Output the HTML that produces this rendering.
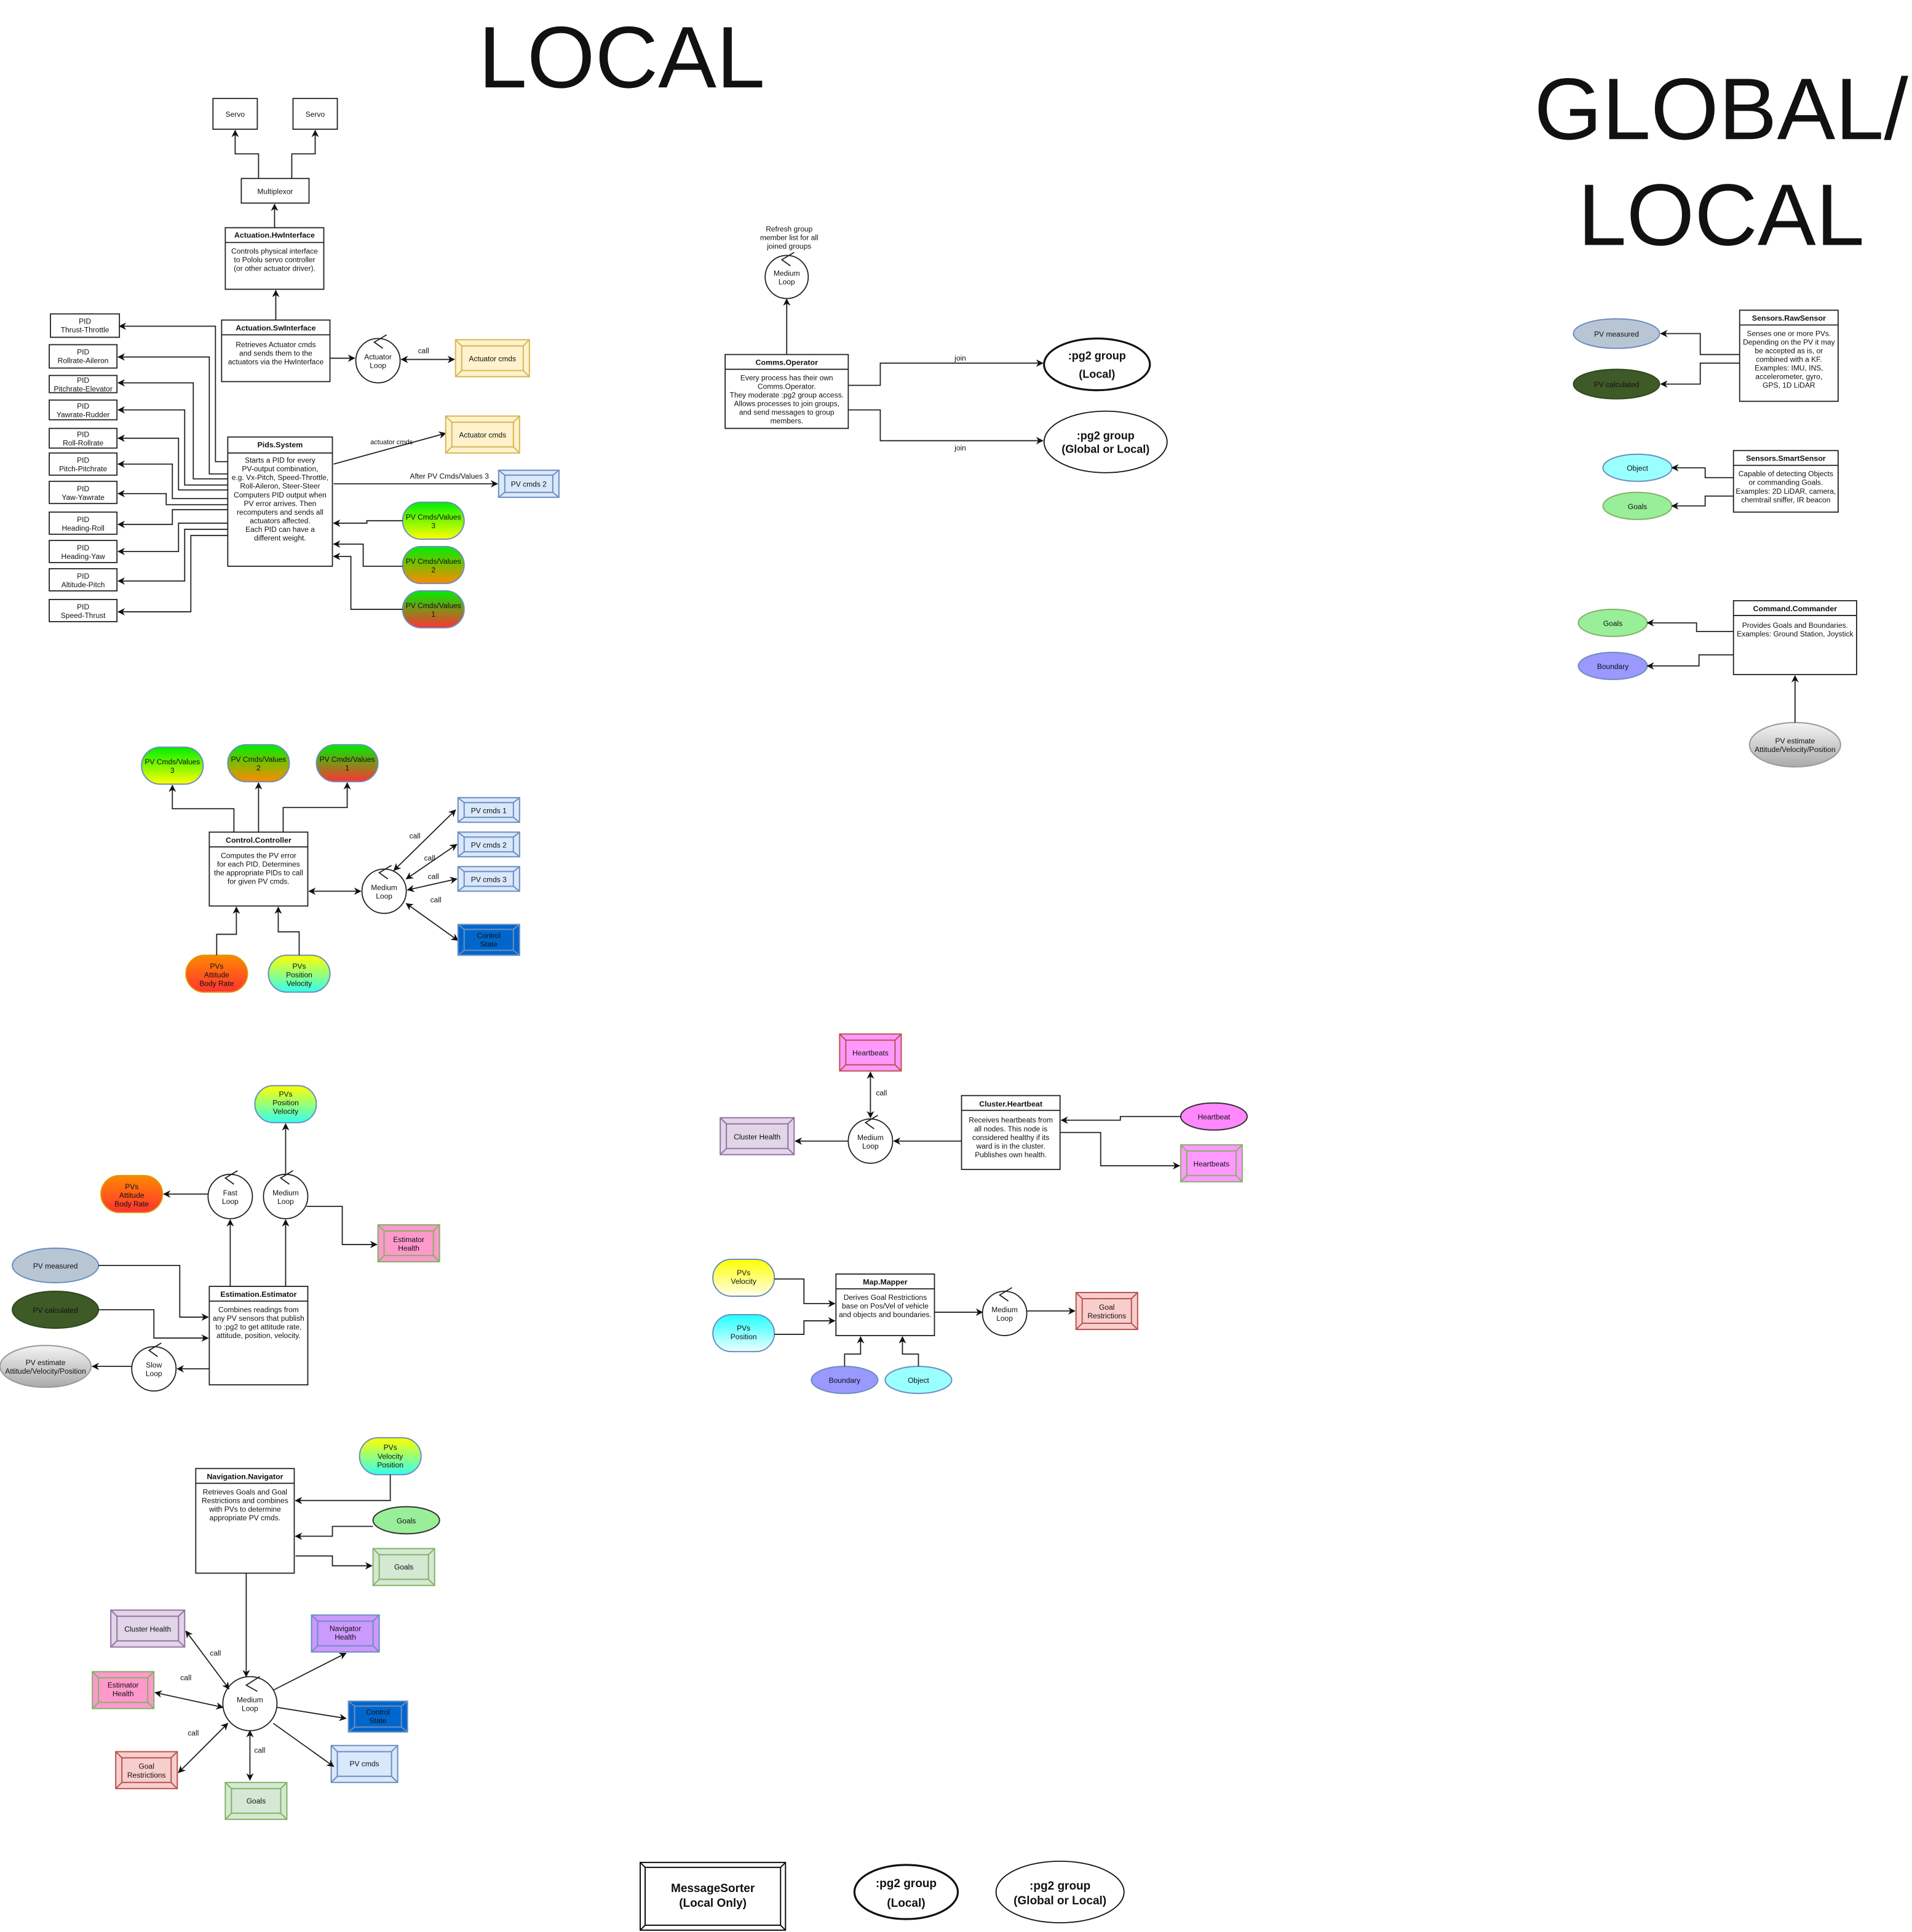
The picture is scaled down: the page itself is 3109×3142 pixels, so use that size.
<!DOCTYPE html>
<html><head><meta charset="utf-8"><style>
html,body{margin:0;padding:0;background:#fff;width:3109px;height:3142px;overflow:hidden}
svg{display:block}
text{font-family:"Liberation Sans Narrow","Liberation Sans",sans-serif;fill:#111}
.s{font-size:6.0px}
.h{font-size:6.2px;font-weight:bold}
.b{fill:#fff;stroke:#222;stroke-width:0.9}
.l{fill:none;stroke:#222;stroke-width:0.9}
</style></head><body>
<svg width="3109" height="3142" viewBox="0 0 1553 1569.5" preserveAspectRatio="none" xmlns="http://www.w3.org/2000/svg">
<defs>
<marker id="a" viewBox="0 0 10 10" refX="9" refY="5" markerWidth="6" markerHeight="6" markerUnits="userSpaceOnUse" orient="auto-start-reverse"><path d="M0,0 L10,5 L0,10 L3,5z" fill="#111"/></marker>
<linearGradient id="g3" x1="0" y1="0" x2="0" y2="1"><stop offset="0" stop-color="#00ee00"/><stop offset="1" stop-color="#ffff00"/></linearGradient>
<linearGradient id="g2" x1="0" y1="0" x2="0" y2="1"><stop offset="0" stop-color="#00ee00"/><stop offset="1" stop-color="#ff8800"/></linearGradient>
<linearGradient id="g1" x1="0" y1="0" x2="0" y2="1"><stop offset="0" stop-color="#00ee00"/><stop offset="1" stop-color="#ff3333"/></linearGradient>
<linearGradient id="go" x1="0" y1="0" x2="0" y2="1"><stop offset="0" stop-color="#ff8800"/><stop offset="1" stop-color="#ff3333"/></linearGradient>
<linearGradient id="gyc" x1="0" y1="0" x2="0" y2="1"><stop offset="0" stop-color="#ffff00"/><stop offset="1" stop-color="#33ffee"/></linearGradient>
<linearGradient id="gy" x1="0" y1="0" x2="0" y2="1"><stop offset="0" stop-color="#ffff00"/><stop offset="1" stop-color="#ffffee"/></linearGradient>
<linearGradient id="gc" x1="0" y1="0" x2="0" y2="1"><stop offset="0" stop-color="#22ffff"/><stop offset="1" stop-color="#eeffff"/></linearGradient>
<linearGradient id="gg" x1="0" y1="0" x2="0" y2="1"><stop offset="0" stop-color="#f4f4f4"/><stop offset="1" stop-color="#aaaaaa"/></linearGradient>
</defs>

<!-- Titles -->
<text x="505" y="71" font-size="71" text-anchor="middle" style="font-family:'Liberation Sans',sans-serif">LOCAL</text>
<text x="1398" y="113" font-size="71" text-anchor="middle" style="font-family:'Liberation Sans',sans-serif">GLOBAL/</text>
<text x="1398" y="199" font-size="71" text-anchor="middle" style="font-family:'Liberation Sans',sans-serif">LOCAL</text>

<!-- Servos / multiplexor -->
<rect class="b" x="173" y="80" width="36" height="25"/><text class="s" x="191" y="95" text-anchor="middle">Servo</text>
<rect class="b" x="238" y="80" width="36" height="25"/><text class="s" x="256" y="95" text-anchor="middle">Servo</text>
<rect class="b" x="196" y="145" width="55" height="20"/><text class="s" x="223.5" y="157.5" text-anchor="middle">Multiplexor</text>
<path class="l" d="M210,145 V125 H191 V106" marker-end="url(#a)"/>
<path class="l" d="M237,145 V125 H256 V106" marker-end="url(#a)"/>
<path class="l" d="M223,185 V166" marker-end="url(#a)"/>
<rect class="b" x="183" y="185" width="80" height="50"/><line class="l" x1="183" y1="197" x2="263" y2="197"/>
<text class="h" x="223" y="193" text-anchor="middle">Actuation.HwInterface</text>
<text class="s" text-anchor="middle"><tspan x="223" y="206">Controls physical interface</tspan><tspan x="223" y="213">to Pololu servo controller</tspan><tspan x="223" y="220">(or other actuator driver).</tspan></text>
<path class="l" d="M224,260 V236" marker-end="url(#a)"/>
<rect class="b" x="180" y="260" width="88" height="50"/><line class="l" x1="180" y1="272" x2="268" y2="272"/>
<text class="h" x="224" y="268.5" text-anchor="middle">Actuation.SwInterface</text>
<text class="s" text-anchor="middle"><tspan x="224" y="282">Retrieves Actuator cmds</tspan><tspan x="224" y="289">and sends them to the</tspan><tspan x="224" y="296">actuators via the HwInterface</tspan></text>
<path class="l" d="M268,291 H288" marker-end="url(#a)"/>
<circle class="b" cx="307" cy="293" r="18"/><path class="l" d="M314,272 L304,278 L311,283"/>
<text class="s" text-anchor="middle"><tspan x="307" y="292">Actuator</tspan><tspan x="307" y="299">Loop</tspan></text>
<path class="l" d="M326,292 H369" marker-start="url(#a)" marker-end="url(#a)"/>
<text class="s" x="344" y="287" text-anchor="middle">call</text>
<g><rect x="370" y="276" width="60" height="30" fill="#fff2cc" stroke="#d6b656"/><rect x="375" y="281" width="50" height="20" fill="none" stroke="#d6b656"/><path d="M370,276 L375,281 M430,276 L425,281 M370,306 L375,301 M430,306 L425,301" stroke="#d6b656"/><text class="s" x="400" y="293.5" text-anchor="middle">Actuator cmds</text></g>

<!-- PIDs -->
<g>
<rect class="b" x="41" y="255" width="56" height="19"/><text class="s" text-anchor="middle"><tspan x="69" y="263">PID</tspan><tspan x="69" y="270">Thrust-Throttle</tspan></text>
<rect class="b" x="40" y="280" width="55" height="19"/><text class="s" text-anchor="middle"><tspan x="67.5" y="288">PID</tspan><tspan x="67.5" y="295">Rollrate-Aileron</tspan></text>
<rect class="b" x="40" y="305" width="55" height="14"/><text class="s" text-anchor="middle"><tspan x="67.5" y="311">PID</tspan><tspan x="67.5" y="318">Pitchrate-Elevator</tspan></text>
<rect class="b" x="40" y="325" width="55" height="16"/><text class="s" text-anchor="middle"><tspan x="67.5" y="332">PID</tspan><tspan x="67.5" y="339">Yawrate-Rudder</tspan></text>
<rect class="b" x="40" y="348" width="55" height="16"/><text class="s" text-anchor="middle"><tspan x="67.5" y="355">PID</tspan><tspan x="67.5" y="362">Roll-Rollrate</tspan></text>
<rect class="b" x="40" y="368" width="55" height="18"/><text class="s" text-anchor="middle"><tspan x="67.5" y="376">PID</tspan><tspan x="67.5" y="383">Pitch-Pitchrate</tspan></text>
<rect class="b" x="40" y="391" width="55" height="18"/><text class="s" text-anchor="middle"><tspan x="67.5" y="399">PID</tspan><tspan x="67.5" y="406">Yaw-Yawrate</tspan></text>
<rect class="b" x="40" y="416" width="55" height="18"/><text class="s" text-anchor="middle"><tspan x="67.5" y="424">PID</tspan><tspan x="67.5" y="431">Heading-Roll</tspan></text>
<rect class="b" x="40" y="439" width="55" height="18"/><text class="s" text-anchor="middle"><tspan x="67.5" y="447">PID</tspan><tspan x="67.5" y="454">Heading-Yaw</tspan></text>
<rect class="b" x="40" y="462" width="55" height="18"/><text class="s" text-anchor="middle"><tspan x="67.5" y="470">PID</tspan><tspan x="67.5" y="477">Altitude-Pitch</tspan></text>
<rect class="b" x="40" y="487" width="55" height="18"/><text class="s" text-anchor="middle"><tspan x="67.5" y="495">PID</tspan><tspan x="67.5" y="502">Speed-Thrust</tspan></text>
</g>
<g>
<path class="l" d="M185,375 H175 V265 H97" marker-end="url(#a)"/>
<path class="l" d="M185,385 H170 V290 H96" marker-end="url(#a)"/>
<path class="l" d="M185,389 H157 V311 H96" marker-end="url(#a)"/>
<path class="l" d="M185,394 H150 V333 H96" marker-end="url(#a)"/>
<path class="l" d="M185,398 H145 V356 H96" marker-end="url(#a)"/>
<path class="l" d="M185,405 H140 V377 H96" marker-end="url(#a)"/>
<path class="l" d="M185,410 H135 V401 H96" marker-end="url(#a)"/>
<path class="l" d="M185,414 H140 V426 H96" marker-end="url(#a)"/>
<path class="l" d="M185,425 H145 V448 H96" marker-end="url(#a)"/>
<path class="l" d="M185,430 H150 V472 H96" marker-end="url(#a)"/>
<path class="l" d="M185,435 H155 V497 H96" marker-end="url(#a)"/>
</g>
<rect class="b" x="185" y="355" width="85" height="105"/><line class="l" x1="185" y1="368" x2="270" y2="368"/>
<text class="h" x="227.5" y="363.5" text-anchor="middle">Pids.System</text>
<text class="s" text-anchor="middle"><tspan x="227.5" y="376">Starts a PID for every</tspan><tspan x="227.5" y="383">PV-output combination,</tspan><tspan x="227.5" y="390">e.g. Vx-Pitch, Speed-Throttle,</tspan><tspan x="227.5" y="397">Roll-Aileron, Steer-Steer</tspan><tspan x="227.5" y="404">Computers PID output when</tspan><tspan x="227.5" y="411">PV error arrives. Then</tspan><tspan x="227.5" y="418">recomputers and sends all</tspan><tspan x="227.5" y="425">actuators affected.</tspan><tspan x="227.5" y="432">Each PID can have a</tspan><tspan x="227.5" y="439">different weight.</tspan></text>
<path class="l" d="M271,377 L362,352" marker-end="url(#a)"/>
<text x="318" y="361" font-size="5.5" text-anchor="middle">actuator cmds</text>
<g><rect x="362" y="338" width="60" height="30" fill="#fff2cc" stroke="#d6b656"/><rect x="367" y="343" width="50" height="20" fill="none" stroke="#d6b656"/><path d="M362,338 L367,343 M422,338 L417,343 M362,368 L367,363 M422,368 L417,363" stroke="#d6b656"/><text class="s" x="392" y="355.5" text-anchor="middle">Actuator cmds</text></g>
<path class="l" d="M271,393 H404" marker-end="url(#a)"/>
<text class="s" x="365" y="389" text-anchor="middle">After PV Cmds/Values 3</text>
<g><rect x="405" y="382" width="49" height="22" fill="#dae8fc" stroke="#6c8ebf"/><rect x="410" y="386" width="39" height="14" fill="none" stroke="#6c8ebf"/><path d="M405,382 L410,386 M454,382 L449,386 M405,404 L410,400 M454,404 L449,400" stroke="#6c8ebf"/><text class="s" x="429.5" y="395.5" text-anchor="middle">PV cmds 2</text></g>
<rect x="327" y="408" width="50" height="30" rx="15" fill="url(#g3)" stroke="#6c8ebf"/><text class="s" text-anchor="middle"><tspan x="352" y="422">PV Cmds/Values</tspan><tspan x="352" y="429">3</tspan></text>
<rect x="327" y="444" width="50" height="30" rx="15" fill="url(#g2)" stroke="#6c8ebf"/><text class="s" text-anchor="middle"><tspan x="352" y="458">PV Cmds/Values</tspan><tspan x="352" y="465">2</tspan></text>
<rect x="327" y="480" width="50" height="30" rx="15" fill="url(#g1)" stroke="#6c8ebf"/><text class="s" text-anchor="middle"><tspan x="352" y="494">PV Cmds/Values</tspan><tspan x="352" y="501">1</tspan></text>
<path class="l" d="M327,423 H298 V425 H271" marker-end="url(#a)"/>
<path class="l" d="M327,460 H295 V442 H271" marker-end="url(#a)"/>
<path class="l" d="M327,495 H285 V452 H271" marker-end="url(#a)"/>

<!-- Control -->
<rect x="115" y="607" width="50" height="30" rx="15" fill="url(#g3)" stroke="#6c8ebf"/><text class="s" text-anchor="middle"><tspan x="140" y="621">PV Cmds/Values</tspan><tspan x="140" y="628">3</tspan></text>
<rect x="185" y="605" width="50" height="30" rx="15" fill="url(#g2)" stroke="#6c8ebf"/><text class="s" text-anchor="middle"><tspan x="210" y="619">PV Cmds/Values</tspan><tspan x="210" y="626">2</tspan></text>
<rect x="257" y="605" width="50" height="30" rx="15" fill="url(#g1)" stroke="#6c8ebf"/><text class="s" text-anchor="middle"><tspan x="282" y="619">PV Cmds/Values</tspan><tspan x="282" y="626">1</tspan></text>
<path class="l" d="M190,676 V657 H140 V638" marker-end="url(#a)"/>
<path class="l" d="M210,676 V636" marker-end="url(#a)"/>
<path class="l" d="M230,676 V656 H282 V636" marker-end="url(#a)"/>
<rect class="b" x="170" y="676" width="80" height="60"/><line class="l" x1="170" y1="688" x2="250" y2="688"/>
<text class="h" x="210" y="684.5" text-anchor="middle">Control.Controller</text>
<text class="s" text-anchor="middle"><tspan x="210" y="697">Computes the PV error</tspan><tspan x="210" y="704">for each PID. Determines</tspan><tspan x="210" y="711">the appropriate PIDs to call</tspan><tspan x="210" y="718">for given PV cmds.</tspan></text>
<path class="l" d="M251,724 H293" marker-start="url(#a)" marker-end="url(#a)"/>
<circle class="b" cx="312" cy="724" r="18"/><path class="l" d="M318,703 L308,709 L315,714"/>
<text class="s" text-anchor="middle"><tspan x="312" y="723">Medium</tspan><tspan x="312" y="730">Loop</tspan></text>
<path class="l" d="M320,707 L370,658" marker-start="url(#a)" marker-end="url(#a)"/>
<path class="l" d="M330,714 L371,686" marker-start="url(#a)" marker-end="url(#a)"/>
<path class="l" d="M331,723 L371,714" marker-start="url(#a)" marker-end="url(#a)"/>
<path class="l" d="M330,734 L372,764" marker-start="url(#a)" marker-end="url(#a)"/>
<text class="s" x="337" y="681" text-anchor="middle">call</text>
<text class="s" x="349" y="699" text-anchor="middle">call</text>
<text class="s" x="352" y="714" text-anchor="middle">call</text>
<text class="s" x="354" y="733" text-anchor="middle">call</text>
<g><rect x="372" y="648" width="50" height="20" fill="#dae8fc" stroke="#6c8ebf"/><rect x="377" y="652" width="40" height="12" fill="none" stroke="#6c8ebf"/><path d="M372,648 L377,652 M422,648 L417,652 M372,668 L377,664 M422,668 L417,664" stroke="#6c8ebf"/><text class="s" x="397" y="660.5" text-anchor="middle">PV cmds 1</text></g>
<g><rect x="372" y="676" width="50" height="20" fill="#dae8fc" stroke="#6c8ebf"/><rect x="377" y="680" width="40" height="12" fill="none" stroke="#6c8ebf"/><path d="M372,676 L377,680 M422,676 L417,680 M372,696 L377,692 M422,696 L417,692" stroke="#6c8ebf"/><text class="s" x="397" y="688.5" text-anchor="middle">PV cmds 2</text></g>
<g><rect x="372" y="704" width="50" height="20" fill="#dae8fc" stroke="#6c8ebf"/><rect x="377" y="708" width="40" height="12" fill="none" stroke="#6c8ebf"/><path d="M372,704 L377,708 M422,704 L417,708 M372,724 L377,720 M422,724 L417,720" stroke="#6c8ebf"/><text class="s" x="397" y="716.5" text-anchor="middle">PV cmds 3</text></g>
<g><rect x="372" y="751" width="50" height="25" fill="#0066cc" stroke="#6c8ebf"/><rect x="377" y="755" width="40" height="17" fill="none" stroke="#6c8ebf"/><path d="M372,751 L377,755 M422,751 L417,755 M372,776 L377,772 M422,776 L417,772" stroke="#6c8ebf"/><text class="s" text-anchor="middle"><tspan x="397" y="762">Control</tspan><tspan x="397" y="769">State</tspan></text></g>
<rect x="151" y="776" width="50" height="30" rx="15" fill="url(#go)" stroke="#d79b00"/><text class="s" text-anchor="middle"><tspan x="176" y="787">PVs</tspan><tspan x="176" y="794">Attitude</tspan><tspan x="176" y="801">Body Rate</tspan></text>
<rect x="218" y="776" width="50" height="30" rx="15" fill="url(#gyc)" stroke="#6c8ebf"/><text class="s" text-anchor="middle"><tspan x="243" y="787">PVs</tspan><tspan x="243" y="794">Position</tspan><tspan x="243" y="801">Velocity</tspan></text>
<path class="l" d="M176,776 V759 H192 V737" marker-end="url(#a)"/>
<path class="l" d="M243,776 V757 H226 V737" marker-end="url(#a)"/>

<!-- Comms -->
<text class="s" text-anchor="middle"><tspan x="641" y="188">Refresh group</tspan><tspan x="641" y="195">member list for all</tspan><tspan x="641" y="202">joined groups</tspan></text>
<circle class="b" cx="639" cy="225" r="17.5"/><path class="l" d="M645,205 L635,211 L642,216"/>
<text class="s" text-anchor="middle"><tspan x="639" y="224">Medium</tspan><tspan x="639" y="231">Loop</tspan></text>
<path class="l" d="M639,288 V243" marker-end="url(#a)"/>
<rect class="b" x="589" y="288" width="100" height="60"/><line class="l" x1="589" y1="300" x2="689" y2="300"/>
<text class="h" x="639" y="296.5" text-anchor="middle">Comms.Operator</text>
<text class="s" text-anchor="middle"><tspan x="639" y="309">Every process has their own</tspan><tspan x="639" y="316">Comms.Operator.</tspan><tspan x="639" y="323">They moderate :pg2 group access.</tspan><tspan x="639" y="330">Allows processes to join groups,</tspan><tspan x="639" y="337">and send messages to group</tspan><tspan x="639" y="344">members.</tspan></text>
<path class="l" d="M689,313 H715 V295 H847" marker-end="url(#a)"/>
<path class="l" d="M689,333 H715 V358 H847" marker-end="url(#a)"/>
<text class="s" x="780" y="293" text-anchor="middle">join</text>
<text class="s" x="780" y="366" text-anchor="middle">join</text>
<ellipse cx="891" cy="296" rx="43" ry="21" fill="#fff" stroke="#111" stroke-width="1.6"/>
<text x="891" y="292" font-size="9" font-weight="bold" text-anchor="middle">:pg2 group</text><text x="891" y="307" font-size="9" font-weight="bold" text-anchor="middle">(Local)</text>
<ellipse cx="898" cy="359" rx="50" ry="25" fill="#fff" stroke="#111" stroke-width="0.9"/>
<text x="898" y="357" font-size="9" font-weight="bold" text-anchor="middle">:pg2 group</text><text x="898" y="368" font-size="9" font-weight="bold" text-anchor="middle">(Global or Local)</text>

<!-- Sensors -->
<rect class="b" x="1413" y="252" width="80" height="74"/><line class="l" x1="1413" y1="264" x2="1493" y2="264"/>
<text class="h" x="1453" y="260.5" text-anchor="middle">Sensors.RawSensor</text>
<text class="s" text-anchor="middle"><tspan x="1453" y="273">Senses one or more PVs.</tspan><tspan x="1453" y="280">Depending on the PV it may</tspan><tspan x="1453" y="287">be accepted as is, or</tspan><tspan x="1453" y="294">combined with a KF.</tspan><tspan x="1453" y="301">Examples: IMU, INS,</tspan><tspan x="1453" y="308">accelerometer, gyro,</tspan><tspan x="1453" y="315">GPS, 1D LiDAR</tspan></text>
<ellipse cx="1313" cy="271" rx="35" ry="12" fill="#b8c6d4" stroke="#6c8ebf"/><text class="s" x="1313" y="273.5" text-anchor="middle">PV measured</text>
<ellipse cx="1313" cy="312" rx="35" ry="12" fill="#3d5a27" stroke="#2d4a1d"/><text class="s" x="1313" y="314.5" text-anchor="middle">PV calculated</text>
<path class="l" d="M1413,288 H1381 V271 H1349" marker-end="url(#a)"/>
<path class="l" d="M1413,295 H1381 V312 H1349" marker-end="url(#a)"/>
<rect class="b" x="1408" y="366" width="85" height="50"/><line class="l" x1="1408" y1="378" x2="1493" y2="378"/>
<text class="h" x="1450.5" y="374.5" text-anchor="middle">Sensors.SmartSensor</text>
<text class="s" text-anchor="middle"><tspan x="1450.5" y="387">Capable of detecting Objects</tspan><tspan x="1450.5" y="394">or commanding Goals.</tspan><tspan x="1450.5" y="401">Examples: 2D LiDAR, camera,</tspan><tspan x="1450.5" y="408">chemtrail sniffer, IR beacon</tspan></text>
<ellipse cx="1330" cy="380" rx="28" ry="11" fill="#99ffff" stroke="#6c8ebf"/><text class="s" x="1330" y="382.5" text-anchor="middle">Object</text>
<ellipse cx="1330" cy="411" rx="28" ry="11" fill="#99ee99" stroke="#82b366"/><text class="s" x="1330" y="413.5" text-anchor="middle">Goals</text>
<path class="l" d="M1408,388 H1385 V380 H1358" marker-end="url(#a)"/>
<path class="l" d="M1408,403 H1385 V411 H1358" marker-end="url(#a)"/>
<rect class="b" x="1408" y="488" width="100" height="60"/><line class="l" x1="1408" y1="500" x2="1508" y2="500"/>
<text class="h" x="1458" y="496.5" text-anchor="middle">Command.Commander</text>
<text class="s" text-anchor="middle"><tspan x="1458" y="510">Provides Goals and Boundaries.</tspan><tspan x="1458" y="517">Examples: Ground Station, Joystick</tspan></text>
<ellipse cx="1310" cy="506" rx="28" ry="11" fill="#99ee99" stroke="#82b366"/><text class="s" x="1310" y="508.5" text-anchor="middle">Goals</text>
<ellipse cx="1310" cy="541" rx="28" ry="11" fill="#9999ff" stroke="#6c8ebf"/><text class="s" x="1310" y="543.5" text-anchor="middle">Boundary</text>
<path class="l" d="M1408,513 H1378 V506 H1338" marker-end="url(#a)"/>
<path class="l" d="M1408,532 H1380 V541 H1338" marker-end="url(#a)"/>
<ellipse cx="1458" cy="605" rx="37" ry="18" fill="url(#gg)" stroke="#999"/><text class="s" text-anchor="middle"><tspan x="1458" y="604">PV estimate</tspan><tspan x="1458" y="611">Attitude/Velocity/Position</tspan></text>
<path class="l" d="M1458,587 V549" marker-end="url(#a)"/>

<!-- Heartbeat -->
<g><rect x="682" y="840" width="50" height="30" fill="#ff99ff" stroke="#b85450"/><rect x="687" y="845" width="40" height="20" fill="none" stroke="#b85450"/><path d="M682,840 L687,845 M732,840 L727,845 M682,870 L687,865 M732,870 L727,865" stroke="#b85450"/><text class="s" x="707" y="857.5" text-anchor="middle">Heartbeats</text></g>
<path class="l" d="M707,871 V908" marker-start="url(#a)" marker-end="url(#a)"/>
<text class="s" x="716" y="890" text-anchor="middle">call</text>
<circle class="b" cx="707" cy="927" r="18"/><path class="l" d="M713,906 L703,912 L710,917"/>
<text class="s" text-anchor="middle"><tspan x="707" y="926">Medium</tspan><tspan x="707" y="933">Loop</tspan></text>
<path class="l" d="M689,927 H646" marker-end="url(#a)"/>
<g><rect x="585" y="908" width="60" height="30" fill="#e1d5e7" stroke="#9673a6"/><rect x="590" y="913" width="50" height="20" fill="none" stroke="#9673a6"/><path d="M585,908 L590,913 M645,908 L640,913 M585,938 L590,933 M645,938 L640,933" stroke="#9673a6"/><text class="s" x="615" y="925.5" text-anchor="middle">Cluster Health</text></g>
<path class="l" d="M781,927 H726" marker-end="url(#a)"/>
<rect class="b" x="781" y="890" width="80" height="60"/><line class="l" x1="781" y1="902" x2="861" y2="902"/>
<text class="h" x="821" y="899" text-anchor="middle">Cluster.Heartbeat</text>
<text class="s" text-anchor="middle"><tspan x="821" y="912">Receives heartbeats from</tspan><tspan x="821" y="919">all nodes. This node is</tspan><tspan x="821" y="926">considered healthy if its</tspan><tspan x="821" y="933">ward is in the cluster.</tspan><tspan x="821" y="940">Publishes own health.</tspan></text>
<ellipse cx="986" cy="907" rx="27" ry="11" fill="#ff88ff" stroke="#333"/><text class="s" x="986" y="909.5" text-anchor="middle">Heartbeat</text>
<path class="l" d="M959,907 H910 V910 H862" marker-end="url(#a)"/>
<path class="l" d="M861,920 H894 V947 H958" marker-end="url(#a)"/>
<g><rect x="959" y="930" width="50" height="30" fill="#ff99ff" stroke="#82b366"/><rect x="964" y="935" width="40" height="20" fill="none" stroke="#82b366"/><path d="M959,930 L964,935 M1009,930 L1004,935 M959,960 L964,955 M1009,960 L1004,955" stroke="#82b366"/><text class="s" x="984" y="947.5" text-anchor="middle">Heartbeats</text></g>

<!-- Mapper -->
<rect x="579" y="1023" width="50" height="30" rx="15" fill="url(#gy)" stroke="#6c8ebf"/><text class="s" text-anchor="middle"><tspan x="604" y="1036">PVs</tspan><tspan x="604" y="1043">Velocity</tspan></text>
<rect x="579" y="1068" width="50" height="30" rx="15" fill="url(#gc)" stroke="#6c8ebf"/><text class="s" text-anchor="middle"><tspan x="604" y="1081">PVs</tspan><tspan x="604" y="1088">Position</tspan></text>
<path class="l" d="M629,1039 H653 V1059 H678" marker-end="url(#a)"/>
<path class="l" d="M629,1084 H653 V1073 H678" marker-end="url(#a)"/>
<rect class="b" x="679" y="1035" width="80" height="50"/><line class="l" x1="679" y1="1047" x2="759" y2="1047"/>
<text class="h" x="719" y="1043.5" text-anchor="middle">Map.Mapper</text>
<text class="s" text-anchor="middle"><tspan x="719" y="1056">Derives Goal Restrictions</tspan><tspan x="719" y="1063">base on Pos/Vel of vehicle</tspan><tspan x="719" y="1070">and objects and boundaries.</tspan></text>
<ellipse cx="686" cy="1121" rx="27" ry="11" fill="#9999ff" stroke="#6c8ebf"/><text class="s" x="686" y="1123.5" text-anchor="middle">Boundary</text>
<ellipse cx="746" cy="1121" rx="27" ry="11" fill="#99ffff" stroke="#6c8ebf"/><text class="s" x="746" y="1123.5" text-anchor="middle">Object</text>
<path class="l" d="M686,1110 V1100 H699 V1086" marker-end="url(#a)"/>
<path class="l" d="M746,1110 V1100 H733 V1086" marker-end="url(#a)"/>
<path class="l" d="M759,1066 H798" marker-end="url(#a)"/>
<circle class="b" cx="816" cy="1067" r="18"/><path class="l" d="M822,1046 L812,1052 L819,1057"/>
<text class="s" text-anchor="middle"><tspan x="816" y="1066">Medium</tspan><tspan x="816" y="1073">Loop</tspan></text>
<path class="l" d="M834,1065 H873" marker-end="url(#a)"/>
<g><rect x="874" y="1050" width="50" height="30" fill="#f8cecc" stroke="#b85450"/><rect x="879" y="1055" width="40" height="20" fill="none" stroke="#b85450"/><path d="M874,1050 L879,1055 M924,1050 L919,1055 M874,1080 L879,1075 M924,1080 L919,1075" stroke="#b85450"/><text class="s" text-anchor="middle"><tspan x="899" y="1064">Goal</tspan><tspan x="899" y="1071">Restrictions</tspan></text></g>

<!-- Estimation -->
<rect x="207" y="882" width="50" height="30" rx="15" fill="url(#gyc)" stroke="#6c8ebf"/><text class="s" text-anchor="middle"><tspan x="232" y="891">PVs</tspan><tspan x="232" y="898">Position</tspan><tspan x="232" y="905">Velocity</tspan></text>
<rect x="82" y="955" width="50" height="30" rx="15" fill="url(#go)" stroke="#d79b00"/><text class="s" text-anchor="middle"><tspan x="107" y="966">PVs</tspan><tspan x="107" y="973">Attitude</tspan><tspan x="107" y="980">Body Rate</tspan></text>
<circle class="b" cx="187" cy="972" r="18"/><path class="l" d="M193,951 L183,957 L190,962"/>
<text class="s" text-anchor="middle"><tspan x="187" y="971">Fast</tspan><tspan x="187" y="978">Loop</tspan></text>
<circle class="b" cx="232" cy="972" r="18"/><path class="l" d="M238,951 L228,957 L235,962"/>
<text class="s" text-anchor="middle"><tspan x="232" y="971">Medium</tspan><tspan x="232" y="978">Loop</tspan></text>
<path class="l" d="M169,970 H133" marker-end="url(#a)"/>
<path class="l" d="M232,954 V913" marker-end="url(#a)"/>
<path class="l" d="M249,980 H278 V1011 H306" marker-end="url(#a)"/>
<g><rect x="307" y="995" width="50" height="30" fill="#ff99cc" stroke="#82b366"/><rect x="312" y="1000" width="40" height="20" fill="none" stroke="#82b366"/><path d="M307,995 L312,1000 M357,995 L352,1000 M307,1025 L312,1020 M357,1025 L352,1020" stroke="#82b366"/><text class="s" text-anchor="middle"><tspan x="332" y="1009">Estimator</tspan><tspan x="332" y="1016">Health</tspan></text></g>
<path class="l" d="M187,1045 V991" marker-end="url(#a)"/>
<path class="l" d="M232,1045 V991" marker-end="url(#a)"/>
<rect class="b" x="170" y="1045" width="80" height="80"/><line class="l" x1="170" y1="1057" x2="250" y2="1057"/>
<text class="h" x="210" y="1053.5" text-anchor="middle">Estimation.Estimator</text>
<text class="s" text-anchor="middle"><tspan x="210" y="1066">Combines readings from</tspan><tspan x="210" y="1073">any PV sensors that publish</tspan><tspan x="210" y="1080">to :pg2 to get attitude rate,</tspan><tspan x="210" y="1087">attitude, position, velocity.</tspan></text>
<ellipse cx="45" cy="1028" rx="35" ry="14" fill="#b8c6d4" stroke="#6c8ebf"/><text class="s" x="45" y="1030.5" text-anchor="middle">PV measured</text>
<ellipse cx="45" cy="1064" rx="35" ry="15" fill="#3d5a27" stroke="#2d4a1d"/><text class="s" x="45" y="1066.5" text-anchor="middle">PV calculated</text>
<path class="l" d="M80,1028 H146 V1070 H169" marker-end="url(#a)"/>
<path class="l" d="M80,1064 H125 V1087 H169" marker-end="url(#a)"/>
<path class="l" d="M170,1112 H144" marker-end="url(#a)"/>
<circle class="b" cx="125" cy="1112" r="18"/><path class="l" d="M131,1091 L121,1097 L128,1102"/>
<text class="s" text-anchor="middle"><tspan x="125" y="1111">Slow</tspan><tspan x="125" y="1118">Loop</tspan></text>
<path class="l" d="M107,1110 H75" marker-end="url(#a)"/>
<ellipse cx="37" cy="1110" rx="37" ry="17" fill="url(#gg)" stroke="#999"/><text class="s" text-anchor="middle"><tspan x="37" y="1109">PV estimate</tspan><tspan x="37" y="1116">Attitude/Velocity/Position</tspan></text>

<!-- Navigation -->
<rect x="292" y="1168" width="50" height="30" rx="15" fill="url(#gyc)" stroke="#6c8ebf"/><text class="s" text-anchor="middle"><tspan x="317" y="1178">PVs</tspan><tspan x="317" y="1185">Velocity</tspan><tspan x="317" y="1192">Position</tspan></text>
<path class="l" d="M317,1198 V1219 H240" marker-end="url(#a)"/>
<ellipse cx="330" cy="1235" rx="27" ry="11" fill="#99ee99" stroke="#333"/><text class="s" x="330" y="1237.5" text-anchor="middle">Goals</text>
<path class="l" d="M303,1240 H270 V1248 H240" marker-end="url(#a)"/>
<path class="l" d="M240,1264 H270 V1272 H302" marker-end="url(#a)"/>
<g><rect x="303" y="1258" width="50" height="30" fill="#d5e8d4" stroke="#82b366"/><rect x="308" y="1263" width="40" height="20" fill="none" stroke="#82b366"/><path d="M303,1258 L308,1263 M353,1258 L348,1263 M303,1288 L308,1283 M353,1288 L348,1283" stroke="#82b366"/><text class="s" x="328" y="1275" text-anchor="middle">Goals</text></g>
<rect class="b" x="159" y="1193" width="80" height="85"/><line class="l" x1="159" y1="1205" x2="239" y2="1205"/>
<text class="h" x="199" y="1201.5" text-anchor="middle">Navigation.Navigator</text>
<text class="s" text-anchor="middle"><tspan x="199" y="1214">Retrieves Goals and Goal</tspan><tspan x="199" y="1221">Restrictions and combines</tspan><tspan x="199" y="1228">with PVs to determine</tspan><tspan x="199" y="1235">appropriate PV cmds.</tspan></text>
<path class="l" d="M200,1278 V1362" marker-end="url(#a)"/>
<circle class="b" cx="203" cy="1384" r="22"/><path class="l" d="M211,1362 L200,1369 L209,1374"/>
<text class="s" text-anchor="middle"><tspan x="203" y="1383">Medium</tspan><tspan x="203" y="1390">Loop</tspan></text>
<g><rect x="90" y="1308" width="60" height="30" fill="#e1d5e7" stroke="#9673a6"/><rect x="95" y="1313" width="50" height="20" fill="none" stroke="#9673a6"/><path d="M90,1308 L95,1313 M150,1308 L145,1313 M90,1338 L95,1333 M150,1338 L145,1333" stroke="#9673a6"/><text class="s" x="120" y="1325.5" text-anchor="middle">Cluster Health</text></g>
<g><rect x="253" y="1312" width="55" height="30" fill="#cc99ff" stroke="#6c8ebf"/><rect x="258" y="1317" width="45" height="20" fill="none" stroke="#6c8ebf"/><path d="M253,1312 L258,1317 M308,1312 L303,1317 M253,1342 L258,1337 M308,1342 L303,1337" stroke="#6c8ebf"/><text class="s" text-anchor="middle"><tspan x="280.5" y="1325">Navigator</tspan><tspan x="280.5" y="1332">Health</tspan></text></g>
<g><rect x="75" y="1358" width="50" height="30" fill="#ff99cc" stroke="#82b366"/><rect x="80" y="1363" width="40" height="20" fill="none" stroke="#82b366"/><path d="M75,1358 L80,1363 M125,1358 L120,1363 M75,1388 L80,1383 M125,1388 L120,1383" stroke="#82b366"/><text class="s" text-anchor="middle"><tspan x="100" y="1371">Estimator</tspan><tspan x="100" y="1378">Health</tspan></text></g>
<g><rect x="283" y="1382" width="48" height="25" fill="#0066cc" stroke="#6c8ebf"/><rect x="288" y="1386" width="38" height="17" fill="none" stroke="#6c8ebf"/><path d="M283,1382 L288,1386 M331,1382 L326,1386 M283,1407 L288,1403 M331,1407 L326,1403" stroke="#6c8ebf"/><text class="s" text-anchor="middle"><tspan x="307" y="1393">Control</tspan><tspan x="307" y="1400">State</tspan></text></g>
<g><rect x="94" y="1423" width="50" height="30" fill="#f8cecc" stroke="#b85450"/><rect x="99" y="1428" width="40" height="20" fill="none" stroke="#b85450"/><path d="M94,1423 L99,1428 M144,1423 L139,1428 M94,1453 L99,1448 M144,1453 L139,1448" stroke="#b85450"/><text class="s" text-anchor="middle"><tspan x="119" y="1437">Goal</tspan><tspan x="119" y="1444">Restrictions</tspan></text></g>
<g><rect x="183" y="1448" width="50" height="30" fill="#d5e8d4" stroke="#82b366"/><rect x="188" y="1453" width="40" height="20" fill="none" stroke="#82b366"/><path d="M183,1448 L188,1453 M233,1448 L228,1453 M183,1478 L188,1473 M233,1478 L228,1473" stroke="#82b366"/><text class="s" x="208" y="1465" text-anchor="middle">Goals</text></g>
<g><rect x="269" y="1418" width="54" height="30" fill="#dae8fc" stroke="#6c8ebf"/><rect x="274" y="1423" width="44" height="20" fill="none" stroke="#6c8ebf"/><path d="M269,1418 L274,1423 M323,1418 L318,1423 M269,1448 L274,1443 M323,1448 L318,1443" stroke="#6c8ebf"/><text class="s" x="296" y="1435" text-anchor="middle">PV cmds</text></g>
<path class="l" d="M151,1325 L186,1372" marker-start="url(#a)" marker-end="url(#a)"/>
<path class="l" d="M126,1375 L181,1387" marker-start="url(#a)" marker-end="url(#a)"/>
<path class="l" d="M145,1440 L185,1400" marker-start="url(#a)" marker-end="url(#a)"/>
<path class="l" d="M203,1406 V1446" marker-start="url(#a)" marker-end="url(#a)"/>
<path class="l" d="M222,1373 L281,1343" marker-end="url(#a)"/>
<path class="l" d="M225,1387 L281,1396" marker-end="url(#a)"/>
<path class="l" d="M222,1400 L271,1435" marker-end="url(#a)"/>
<text class="s" x="175" y="1345" text-anchor="middle">call</text>
<text class="s" x="151" y="1365" text-anchor="middle">call</text>
<text class="s" x="157" y="1410" text-anchor="middle">call</text>
<text class="s" x="211" y="1424" text-anchor="middle">call</text>

<!-- Bottom legend -->
<rect x="520" y="1513" width="118" height="55" fill="#fff" stroke="#111" stroke-width="1"/>
<rect x="524" y="1517" width="110" height="47" fill="none" stroke="#111" stroke-width="1"/>
<path d="M520,1513 L524,1517 M638,1513 L634,1517 M520,1568 L524,1564 M638,1568 L634,1564" stroke="#111"/>
<text x="579" y="1537" font-size="9.5" font-weight="bold" text-anchor="middle">MessageSorter</text>
<text x="579" y="1549" font-size="9.5" font-weight="bold" text-anchor="middle">(Local Only)</text>
<ellipse cx="736" cy="1537" rx="42" ry="22" fill="#fff" stroke="#111" stroke-width="1.6"/>
<text x="736" y="1533" font-size="9.5" font-weight="bold" text-anchor="middle">:pg2 group</text>
<text x="736" y="1549" font-size="9.5" font-weight="bold" text-anchor="middle">(Local)</text>
<ellipse cx="861" cy="1537" rx="52" ry="25" fill="#fff" stroke="#111" stroke-width="0.9"/>
<text x="861" y="1535" font-size="9.5" font-weight="bold" text-anchor="middle">:pg2 group</text>
<text x="861" y="1547" font-size="9.5" font-weight="bold" text-anchor="middle">(Global or Local)</text>
</svg>
</body></html>
